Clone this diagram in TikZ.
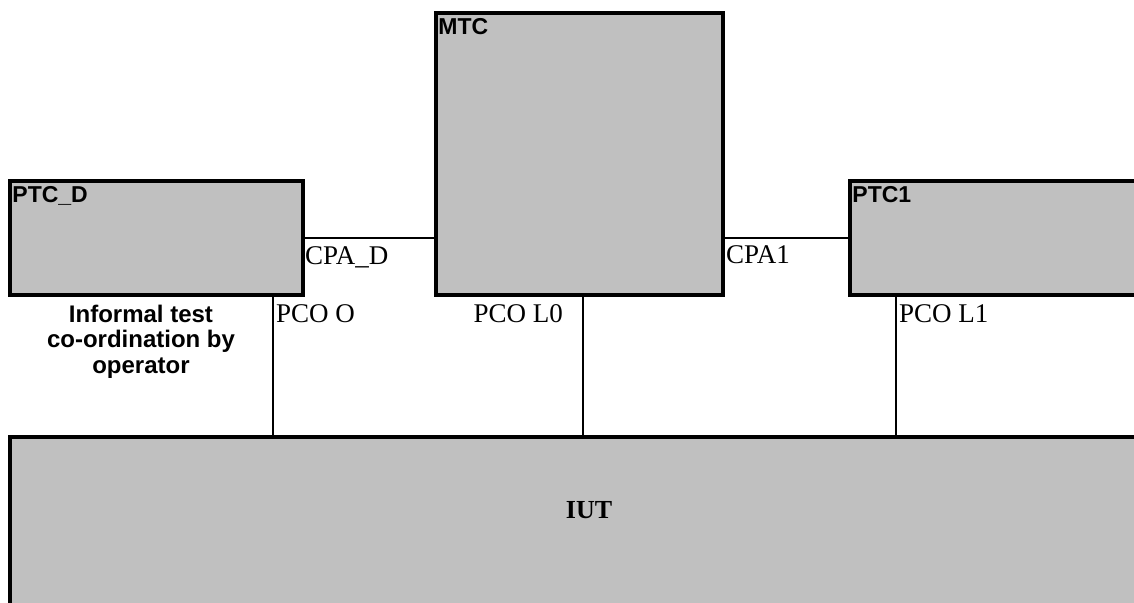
\documentclass[tikz,border=0pt]{standalone}
\usepackage{fontspec}
\setmainfont{Liberation Serif}
\setsansfont{Liberation Sans}
\definecolor{boxgray}{HTML}{C0C0C0}
\begin{document}
\begin{tikzpicture}[x=1pt, y=-1pt,
  tcbox/.style={draw, fill=boxgray, line width=3.5pt, inner sep=0pt},
  boxname/.style={anchor=base west, inner sep=0pt, font=\fontsize{23}{26}\selectfont\sffamily\bfseries},
  portname/.style={inner sep=0pt, font=\fontsize{27}{30}\selectfont},
  link/.style={line width=2pt}]
\clip (0,0) rectangle (1134,602);
\node[tcbox, minimum width=293, minimum height=114] (ptcd) at (156.5,238) {};
\node[tcbox, minimum width=287, minimum height=282] (mtc) at (579.5,154) {};
\node[tcbox, minimum width=310, minimum height=114] (ptc1) at (1005,238) {};
\node[tcbox, minimum width=1150, minimum height=200] (iut) at (585,537) {};
\node[boxname] (ptcdname) at ([xshift=4pt, yshift=-23pt]ptcd.north west) {PTC\_D};
\node[boxname] (mtcname) at ([xshift=4pt, yshift=-23pt]mtc.north west) {MTC};
\node[boxname] (ptc1name) at ([xshift=4pt, yshift=-23pt]ptc1.north west) {PTC1};
\node[inner sep=0pt, anchor=base, font=\fontsize{26}{30}\selectfont\bfseries] (iutname) at (589,518) {IUT};
\node[align=center, inner sep=0pt, anchor=base, font=\fontsize{24}{25.5}\selectfont\sffamily\bfseries] (informal) at (141,373) {Informal test\\co-ordination by\\operator};
\coordinate (pcoo) at (273,295);
\coordinate (pcol0) at (583,295);
\coordinate (pcol1) at (896,295);
\draw[link] (ptcd.east) -- (ptcd.east -| mtc.west);
\draw[link] (ptc1.west -| mtc.east) -- (ptc1.west);
\draw[link] (pcoo) -- (pcoo |- iut.north);
\draw[link] (pcol0) -- (pcol0 |- iut.north);
\draw[link] (pcol1) -- (pcol1 |- iut.north);
\node[portname, anchor=base west] (cpad) at (305,264) {CPA\_D};
\node[portname, anchor=base west] (cpa1) at (726,263) {CPA1};
\node[portname, anchor=base west] (pcoolabel) at (276,322) {PCO O};
\node[portname, anchor=base east] (pcol0label) at (563,322) {PCO L0};
\node[portname, anchor=base west] (pcol1label) at (899,322) {PCO L1};
\end{tikzpicture}
\end{document}
